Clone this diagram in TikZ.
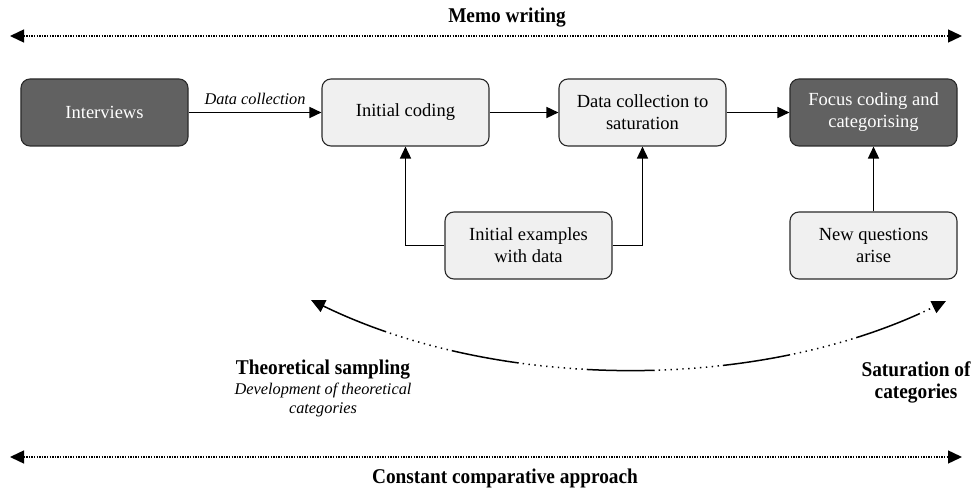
\documentclass[tikz,border=0pt]{standalone}
\usepackage{fontspec}
\setmainfont{Liberation Serif}
\newfontfamily\condbold[FakeStretch=0.92]{Liberation Serif Bold}
\usetikzlibrary{arrows.meta}
\definecolor{darkbox}{HTML}{616161}
\definecolor{lightbox}{HTML}{F0F0F0}
\definecolor{edge}{HTML}{2A2A2A}
\begin{document}
\begin{tikzpicture}[x=1bp,y=-1bp,
  box/.style={draw=edge,line width=1.1bp,rounded corners=9bp,minimum width=167bp,minimum height=67bp,align=center,inner sep=2bp,font=\fontsize{18.5bp}{22bp}\selectfont},
  darkb/.style={box,fill=darkbox,text=white},
  lightb/.style={box,fill=lightbox,text=black},
  tip/.style={-{Triangle[length=12bp,width=11bp]}},
  flow/.style={tip,line width=1.5bp},
  dots/.style={line width=1.4bp,dash pattern=on 1.4bp off 1.2bp},
  bigarrow/.style={{Triangle[length=14bp,width=13bp]}-{Triangle[length=14bp,width=13bp]}},
  blabel/.style={font=\condbold\fontsize{21bp}{22bp}\selectfont,align=center},
  ilabel/.style={font=\itshape\fontsize{16.3bp}{19bp}\selectfont,align=center}
]
\useasboundingbox (0,0) rectangle (971,489);
% boxes
\node[darkb]  (int)  at (104.5,112.5) {Interviews};
\node[lightb] (ic)   at (405.5,112.5) {Initial coding};
\node[lightb] (dcs)  at (642.5,112.5) {Data collection to\\saturation};
\node[darkb]  (fc)   at (873.5,112.5) {Focus coding and\\categorising};
\node[lightb] (ie)   at (528.5,245.5) {Initial examples\\with data};
\node[lightb] (nq)   at (873.5,245.5) {New questions\\arise};
% flow arrows
\draw[flow] (int) -- node[ilabel,above=4bp]{Data collection} (ic);
\draw[flow] (ic) -- (dcs);
\draw[flow] (dcs) -- (fc);
\draw[flow] (ie.west) -| (ic.south);
\draw[flow] (ie.east) -| (dcs.south);
\draw[flow] (nq) -- (fc);
% top and bottom dotted arrows
\coordinate (tl) at (10,36); \coordinate (tr) at (962,36);
\coordinate (bl) at (10,457); \coordinate (br) at (962,457);
\draw[dots,bigarrow] (tl) -- (tr);
\draw[dots,bigarrow] (bl) -- (br);
\node[blabel] (memo) at (507,18) {Memo writing};
\node[blabel] (cca) at (505,478) {Constant comparative approach};
% curve
\coordinate (cl) at (311,300);
\coordinate (cr) at (946,301);
\draw[line width=1.5bp,bigarrow,
  dash pattern=on 68bp off 4bp on 1.4bp off 4.5bp on 1.4bp off 4.5bp on 1.4bp off 4.5bp on 1.4bp off 4.5bp on 1.4bp off 4.5bp on 1.4bp off 4.5bp on 1.4bp off 4.5bp on 1.4bp off 4.5bp on 1.4bp off 4.5bp on 1.4bp off 4.5bp on 1.4bp off 4bp]
  (cl) .. controls (500,392) and (760,392) .. (cr);
% labels of curve
\node[blabel] (ts) at (323,370) {Theoretical sampling};
\node[ilabel] (dev) at (323,400) {Development of theoretical\\categories};
\node[blabel] (sat) at (916,382) {Saturation of\\categories};
\end{tikzpicture}
\end{document}
